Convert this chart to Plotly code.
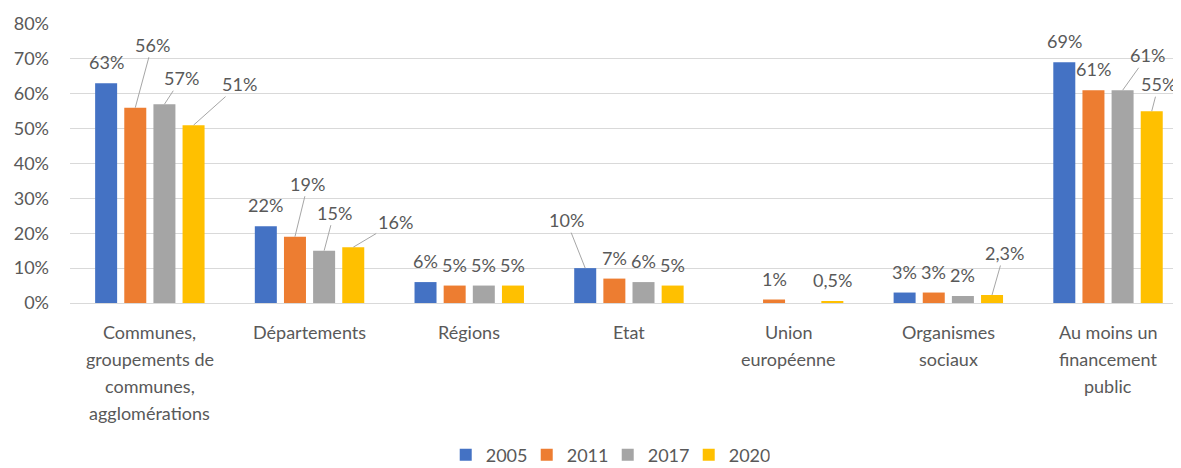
import plotly.graph_objects as go

categories = [
    "Communes, groupements de communes, agglomérations",
    "Départements",
    "Régions",
    "Etat",
    "Union européenne",
    "Organismes sociaux",
    "Au moins un financement public",
]
category_lines = [
    ["Communes,", "groupements de", "communes,", "agglomérations"],
    ["Départements"],
    ["Régions"],
    ["Etat"],
    ["Union", "européenne"],
    ["Organismes", "sociaux"],
    ["Au moins un", "financement", "public"],
]
series_names = ["2005", "2011", "2017", "2020"]
v2005 = [63, 22, 6, 10, None, 3, 69]
v2011 = [56, 19, 5, 7, 1, 3, 61]
v2017 = [57, 15, 5, 6, None, 2, 61]
v2020 = [51, 16, 5, 5, 0.5, 2.3, 55]
y_ticks = [0, 10, 20, 30, 40, 50, 60, 70, 80]

# ---- styling / layout (not data) ----
colors = ["#4472C4", "#ED7D31", "#A5A5A5", "#FFC000"]
FONT = "Lato"
TXT = "#595959"
FS = 18
series_shift = [-43.7, -14.6, 14.6, 43.7]
# label offsets (dx, dy, leader line) in pixels relative to bar top, per (category, series)
default_off = (0, -21, False)
label_offsets = {
    (0, 1): (17, -63, True),
    (0, 2): (17, -26, True),
    (0, 3): (46, -41, True),
    (1, 1): (13, -53, True),
    (1, 2): (10, -38, True),
    (1, 3): (42, -25, True),
    (3, 0): (-19, -48, True),
    (5, 3): (12, -42, True),
    (6, 2): (25, -35, True),
    (6, 3): (7, -27, True),
}

def fmt(v):
    s = ("%g" % v).replace(".", ",")
    return s + "%"

all_series = [v2005, v2011, v2017, v2020]

fig = go.Figure()
for name, vals, col in zip(series_names, all_series, colors):
    fig.add_bar(name=name, x=categories, y=vals, marker=dict(color=col, line=dict(width=0)))

annotations = []
for si, vals in enumerate(all_series):
    for ci, v in enumerate(vals):
        if v is None:
            continue
        dx, dy, lead = label_offsets.get((ci, si), default_off)
        if lead:
            annotations.append(dict(
                x=categories[ci], y=v, xref="x", yref="y", xshift=series_shift[si],
                text=fmt(v), showarrow=True, ax=dx, ay=dy, arrowhead=0,
                arrowwidth=1, arrowcolor="#A6A6A6", standoff=0, startstandoff=0,
                font=dict(family=FONT, size=FS, color=TXT),
            ))
        else:
            annotations.append(dict(
                x=categories[ci], y=v, xref="x", yref="y",
                xshift=series_shift[si] + dx, yshift=-dy,
                text=fmt(v), showarrow=False, yanchor="middle",
                font=dict(family=FONT, size=FS, color=TXT),
            ))

for ci, lines in enumerate(category_lines):
    for j, line in enumerate(lines):
        annotations.append(dict(
            x=categories[ci], y=0, xref="x", yref="y", yshift=-29 - 27 * j,
            text=line, showarrow=False, yanchor="middle", xanchor="center",
            font=dict(family=FONT, size=FS, color=TXT),
        ))

# the page body has an 8px margin: the figure is sized/offset to compensate
fig.update_layout(
    width=1173, height=460,
    margin=dict(l=62, r=0, t=16, b=165, autoexpand=False),
    paper_bgcolor="white", plot_bgcolor="white",
    barmode="group", bargap=0.27, bargroupgap=0.245,
    font=dict(family=FONT, size=FS, color=TXT),
    annotations=annotations,
    showlegend=True,
    legend=dict(orientation="h", x=0.484, xanchor="center", y=-0.545, yanchor="middle",
                font=dict(family=FONT, size=FS, color=TXT), itemwidth=30,
                entrywidth=36, entrywidthmode="pixels"),
)
fig.update_xaxes(showticklabels=False, showgrid=False, zeroline=False, showline=False,
                 range=[-0.5, 6.457], fixedrange=True, automargin=False)
fig.update_yaxes(range=[0, 80], tickvals=y_ticks, ticktext=[f"{t}%" for t in y_ticks],
                 showgrid=True, gridcolor="#D9D9D9", gridwidth=1, zeroline=True,
                 zerolinecolor="#D9D9D9", zerolinewidth=1, showline=False, ticks="",
                 ticklabelstandoff=20, automargin=False,
                 tickfont=dict(family=FONT, size=FS, color=TXT))

fig.write_html("out.html")
